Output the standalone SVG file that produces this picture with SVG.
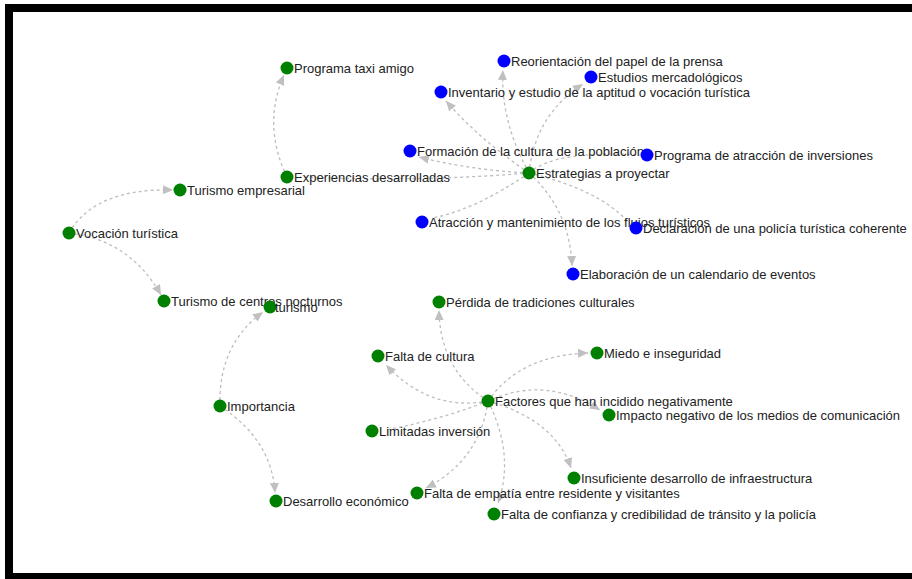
<svg xmlns="http://www.w3.org/2000/svg" width="912" height="579" viewBox="0 0 912 579">
<style>
.e{fill:none;stroke:#bdbdbd;stroke-width:1.3;stroke-dasharray:3,3}
.a{marker-end:url(#ah)}
.g{fill:#008000}
.b{fill:#0000ff}
text{font-family:"Liberation Sans",Arial,sans-serif;font-size:13px;fill:#222}
</style>
<defs>
<marker id="ah" markerUnits="userSpaceOnUse" markerWidth="11" markerHeight="9" refX="10" refY="4.5" orient="auto">
<path d="M0,0 L10,4.5 L0,9 z" fill="#c0c0c0"/>
</marker>
</defs>
<rect x="0" y="0" width="912" height="579" fill="#fff"/>
<rect x="5" y="4" width="907" height="575" fill="#000"/>
<rect x="13" y="12" width="899" height="561" fill="#fff"/>
<g id="connectors">
<path class="e a" d="M287,177 Q262,125 284,75"/>
<path class="e a" d="M69,233 Q95,188 173,190"/>
<path class="e a" d="M69,233 Q130,240 161,295"/>
<path class="e a" d="M220,406 Q218,345 263,312"/>
<path class="e a" d="M220,406 Q272,440 275,493"/>
<path class="e a" d="M529,173 Q500,120 503,70"/>
<path class="e a" d="M529,173 Q535,115 583,84"/>
<path class="e a" d="M529,173 Q480,140 446,101"/>
<path class="e a" d="M529,173 Q470,170 419,157"/>
<path class="e" d="M529,173 Q420,182 300,177"/>
<path class="e" d="M529,173 Q475,210 432,218"/>
<path class="e" d="M529,173 Q600,190 628,222"/>
<path class="e" d="M529,173 Q555,150 640,155"/>
<path class="e a" d="M529,173 Q570,210 572,266"/>
<path class="e a" d="M488,401 Q440,370 439,310"/>
<path class="e a" d="M488,401 Q430,412 386,365"/>
<path class="e a" d="M488,401 Q520,355 588,353"/>
<path class="e a" d="M488,401 Q545,375 600,410"/>
<path class="e a" d="M488,401 Q555,420 571,468"/>
<path class="e a" d="M488,401 Q515,455 498,503"/>
<path class="e a" d="M488,401 Q480,460 426,488"/>
<path class="e" d="M488,401 Q440,420 385,430"/>
</g>
<g id="n_taxi"><circle class="g" cx="287" cy="68" r="6.5"/><text x="294" y="72.5">Programa taxi amigo</text></g>
<g id="n_experiencias"><circle class="g" cx="287" cy="177" r="6.5"/><text x="294" y="181.5">Experiencias desarrolladas</text></g>
<g id="n_turemp"><circle class="g" cx="180" cy="190" r="6.5"/><text x="187" y="194.5">Turismo empresarial</text></g>
<g id="n_vocacion"><circle class="g" cx="69" cy="233" r="6.5"/><text x="76" y="237.5">Vocación turística</text></g>
<g id="n_turcen"><circle class="g" cx="164" cy="301" r="6.5"/><text x="171" y="305.5">Turismo de centros nocturnos</text></g>
<g id="n_turismo"><circle class="g" cx="270" cy="307" r="6.5"/><text x="275" y="311.5">turismo</text></g>
<g id="n_importancia"><circle class="g" cx="220" cy="406" r="6.5"/><text x="227" y="410.5">Importancia</text></g>
<g id="n_deseco"><circle class="g" cx="276" cy="501" r="6.5"/><text x="283" y="505.5">Desarrollo económico</text></g>
<g id="n_reor"><circle class="b" cx="504" cy="61" r="6.5"/><text x="511" y="65.5">Reorientación del papel de la prensa</text></g>
<g id="n_estudios"><circle class="b" cx="591" cy="77" r="6.5"/><text x="598" y="81.5">Estudios mercadológicos</text></g>
<g id="n_inventario"><circle class="b" cx="441" cy="92" r="6.5"/><text x="448" y="96.5">Inventario y estudio de la aptitud o vocación turística</text></g>
<g id="n_formacion"><circle class="b" cx="410" cy="151" r="6.5"/><text x="417" y="155.5">Formación de la cultura de la población</text></g>
<g id="n_progatr"><circle class="b" cx="647" cy="155" r="6.5"/><text x="654" y="159.5">Programa de atracción de inversiones</text></g>
<g id="n_estrategias"><circle class="g" cx="529" cy="173" r="6.5"/><text x="536" y="177.5">Estrategias a proyectar</text></g>
<g id="n_atraccion"><circle class="b" cx="422" cy="222" r="6.5"/><text x="429" y="226.5">Atracción y mantenimiento de los flujos turísticos</text></g>
<g id="n_declaracion"><circle class="b" cx="636" cy="228" r="6.5"/><text x="643" y="232.5">Declaración de una policía turística coherente</text></g>
<g id="n_elaboracion"><circle class="b" cx="573" cy="274" r="6.5"/><text x="580" y="278.5">Elaboración de un calendario de eventos</text></g>
<g id="n_perdida"><circle class="g" cx="439" cy="302" r="6.5"/><text x="446" y="306.5">Pérdida de tradiciones culturales</text></g>
<g id="n_miedo"><circle class="g" cx="597" cy="353" r="6.5"/><text x="604" y="357.5">Miedo e inseguridad</text></g>
<g id="n_faltacultura"><circle class="g" cx="378" cy="356" r="6.5"/><text x="385" y="360.5">Falta de cultura</text></g>
<g id="n_factores"><circle class="g" cx="488" cy="401" r="6.5"/><text x="495" y="405.5">Factores que han incidido negativamente</text></g>
<g id="n_impacto"><circle class="g" cx="609" cy="415" r="6.5"/><text x="616" y="419.5">Impacto negativo de los medios de comunicación</text></g>
<g id="n_limitadas"><circle class="g" cx="372" cy="431" r="6.5"/><text x="379" y="435.5">Limitadas inversión</text></g>
<g id="n_insuficiente"><circle class="g" cx="574" cy="478" r="6.5"/><text x="581" y="482.5">Insuficiente desarrollo de infraestructura</text></g>
<g id="n_empatia"><circle class="g" cx="417" cy="493" r="6.5"/><text x="424" y="497.5">Falta de empatía entre residente y visitantes</text></g>
<g id="n_confianza"><circle class="g" cx="494" cy="514" r="6.5"/><text x="501" y="518.5">Falta de confianza y credibilidad de tránsito y la policía</text></g>
</svg>
